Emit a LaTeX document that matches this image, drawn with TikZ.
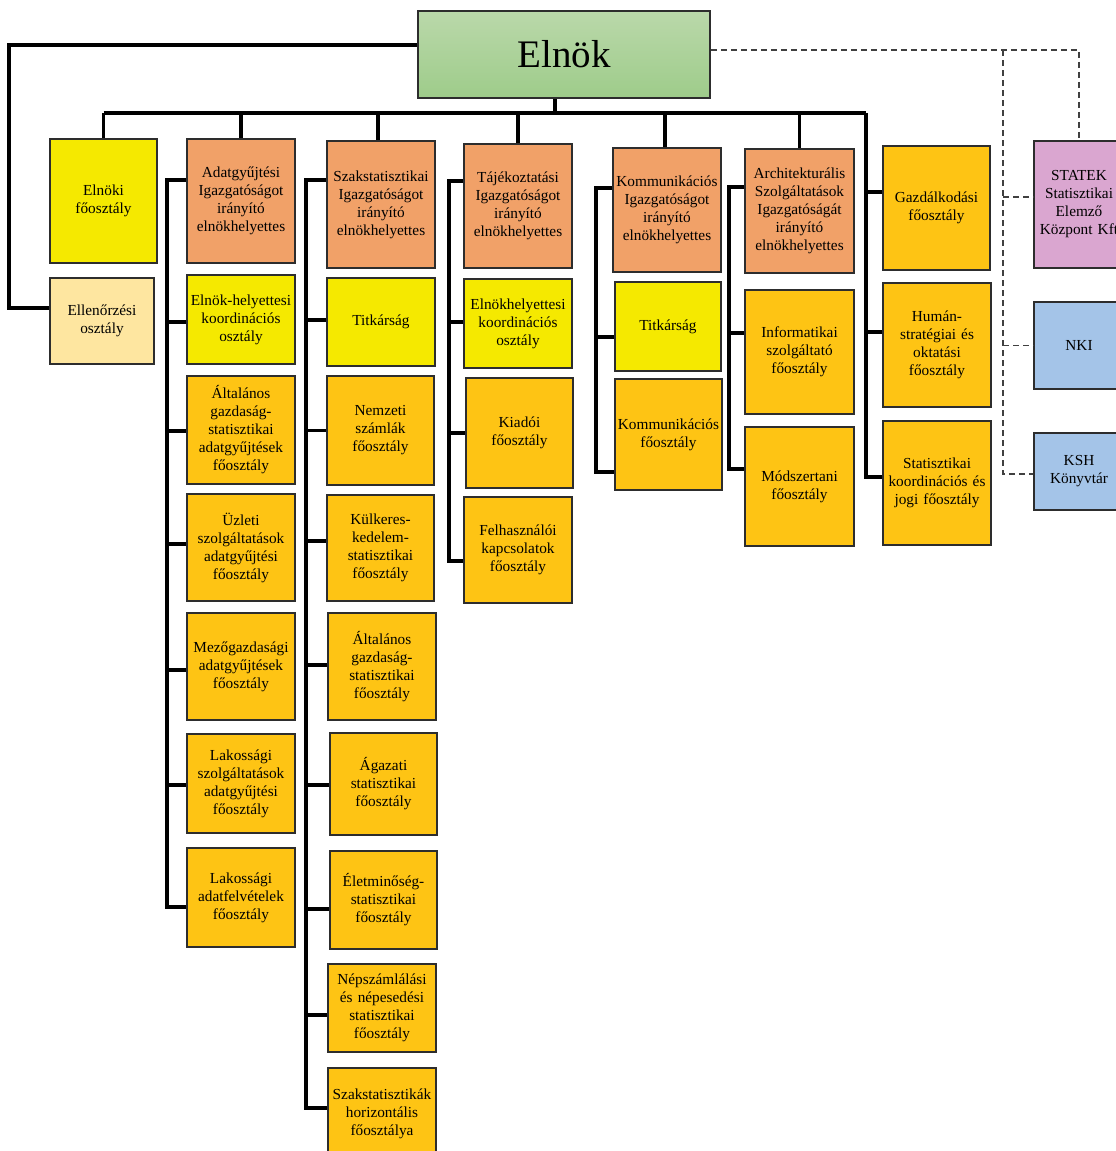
\documentclass[tikz,border=0pt]{standalone}
\usepackage{fontspec}
\setmainfont{Liberation Serif}
\definecolor{heador}{RGB}{241,161,104}
\definecolor{yel}{RGB}{245,233,0}
\definecolor{amber}{RGB}{254,196,20}
\definecolor{lyel}{RGB}{254,230,160}
\definecolor{pinkb}{RGB}{218,166,208}
\definecolor{blueb}{RGB}{164,196,232}
\definecolor{gtop}{RGB}{186,216,170}
\definecolor{gbot}{RGB}{158,204,138}
\definecolor{bord}{RGB}{45,45,45}
\tikzset{
  box/.style={draw=bord, line width=1.8pt, inner sep=0pt, align=center,
    font=\fontsize{15.3}{18}\selectfont},
  conn/.style={line width=3.2pt, black},
  dsh/.style={line width=1.4pt, black!75, dash pattern=on 6pt off 4pt},
}
\begin{document}
\begin{tikzpicture}[x=1pt,y=-1pt]
\useasboundingbox (0,0) rectangle (1116,1151);
\clip (0,0) rectangle (1116,1151);
\fill[white] (0,0) rectangle (1116,1151);

% top
\node[draw=bord, line width=1.8pt, top color=gtop, bottom color=gbot,
  minimum width=292pt, minimum height=87pt, inner sep=0pt,
  font=\fontsize{39}{44}\selectfont] (elnok) at (564,54.5) {Elnök};

% column 1
\node[box, fill=yel, minimum width=107pt, minimum height=124pt, text width=105pt] (e1) at (103.5,201) {Elnöki\\főosztály};
\node[box, fill=lyel, minimum width=104pt, minimum height=86pt, text width=102pt] (e2) at (102,321) {Ellenőrzési\\osztály};

% column 2
\node[box, fill=heador, minimum width=108pt, minimum height=124pt, text width=108pt] (a0) at (241,201) {Adatgyűjtési\\Igazgatóságot\\irányító\\elnökhelyettes};
\node[box, fill=yel, minimum width=108pt, minimum height=89pt, text width=108pt] (a1) at (241,319.5) {Elnök-helyettesi\\koordinációs\\osztály};
\node[box, fill=amber, minimum width=108pt, minimum height=108pt, text width=108pt] (a2) at (241,430) {Általános\\gazdaság-\\statisztikai\\adatgyűjtések\\főosztály};
\node[box, fill=amber, minimum width=108pt, minimum height=107pt, text width=108pt] (a3) at (241,547.5) {Üzleti\\szolgáltatások\\adatgyűjtési\\főosztály};
\node[box, fill=amber, minimum width=108pt, minimum height=107pt, text width=108pt] (a4) at (241,666.5) {Mezőgazdasági\\adatgyűjtések\\főosztály};
\node[box, fill=amber, minimum width=108pt, minimum height=99pt, text width=108pt] (a5) at (241,783.5) {Lakossági\\szolgáltatások\\adatgyűjtési\\főosztály};
\node[box, fill=amber, minimum width=108pt, minimum height=99pt, text width=108pt] (a6) at (241,897.5) {Lakossági\\adatfelvételek\\főosztály};

% column 3
\node[box, fill=heador, minimum width=108pt, minimum height=127pt, text width=108pt] (s0) at (381,204.5) {Szakstatisztikai\\Igazgatóságot\\irányító\\elnökhelyettes};
\node[box, fill=yel, minimum width=108pt, minimum height=88pt, text width=108pt] (s1) at (381,322) {Titkárság};
\node[box, fill=amber, minimum width=107pt, minimum height=109pt, text width=107pt] (s2) at (380.5,430.5) {Nemzeti\\számlák\\főosztály};
\node[box, fill=amber, minimum width=107pt, minimum height=106pt, text width=107pt] (s3) at (380.5,548) {Külkeres-\\kedelem-\\statisztikai\\főosztály};
\node[box, fill=amber, minimum width=108pt, minimum height=107pt, text width=108pt] (s4) at (382,666.5) {Általános\\gazdaság-\\statisztikai\\főosztály};
\node[box, fill=amber, minimum width=107pt, minimum height=102pt, text width=107pt] (s5) at (383.5,784) {Ágazati\\statisztikai\\főosztály};
\node[box, fill=amber, minimum width=107pt, minimum height=98pt, text width=107pt] (s6) at (383.5,900) {Életminőség-\\statisztikai\\főosztály};
\node[box, fill=amber, minimum width=108pt, minimum height=88pt, text width=108pt] (s7) at (382,1008) {Népszámlálási\\és népesedési\\statisztikai\\főosztály};
\node[box, fill=amber, minimum width=108pt, minimum height=92pt, text width=108pt] (s8) at (382,1114) {Szakstatisztikák\\horizontális\\főosztálya\\[4pt]};

% column 4
\node[box, fill=heador, minimum width=108pt, minimum height=124pt, text width=108pt] (t0) at (518,206) {Tájékoztatási\\Igazgatóságot\\irányító\\elnökhelyettes};
\node[box, fill=yel, minimum width=108pt, minimum height=89pt, text width=108pt] (t1) at (518,323.5) {Elnökhelyettesi\\koordinációs\\osztály};
\node[box, fill=amber, minimum width=107pt, minimum height=110pt, text width=107pt] (t2) at (519.5,433) {Kiadói\\főosztály};
\node[box, fill=amber, minimum width=108pt, minimum height=106pt, text width=108pt] (t3) at (518,550) {Felhasználói\\kapcsolatok\\főosztály};

% column 5
\node[box, fill=heador, minimum width=108pt, minimum height=124pt, text width=108pt] (k0) at (667,210) {Kommunikációs\\Igazgatóságot\\irányító\\elnökhelyettes};
\node[box, fill=yel, minimum width=106pt, minimum height=89pt, text width=106pt] (k1) at (668,326.5) {Titkárság};
\node[box, fill=amber, minimum width=107pt, minimum height=111pt, text width=107pt] (k2) at (668.5,434.5) {Kommunikációs\\főosztály};

% column 6
\node[box, fill=heador, minimum width=109pt, minimum height=124pt, text width=109pt] (r0) at (799.5,211) {Architekturális\\Szolgáltatások\\Igazgatóságát\\irányító\\elnökhelyettes};
\node[box, fill=amber, minimum width=109pt, minimum height=124pt, text width=109pt] (r1) at (799.5,352) {Informatikai\\szolgáltató\\főosztály};
\node[box, fill=amber, minimum width=109pt, minimum height=119pt, text width=109pt] (r2) at (799.5,486.5) {Módszertani\\főosztály};

% column 7
\node[box, fill=amber, minimum width=107pt, minimum height=124pt, text width=107pt] (g1) at (936.5,208) {Gazdálkodási\\főosztály};
\node[box, fill=amber, minimum width=108pt, minimum height=124pt, text width=108pt] (g2) at (937,345) {Humán-\\stratégiai és\\oktatási\\főosztály};
\node[box, fill=amber, minimum width=108pt, minimum height=124pt, text width=108pt] (g3) at (937,483) {Statisztikai\\koordinációs és\\jogi főosztály};

% right side
\node[box, fill=pinkb, minimum width=90pt, minimum height=127pt, text width=90pt] (x1) at (1079,204.5) {STATEK\\Statisztikai\\Elemző\\Központ Kft};
\node[box, fill=blueb, minimum width=90pt, minimum height=87pt, text width=90pt] (x2) at (1079,345.5) {NKI};
\node[box, fill=blueb, minimum width=90pt, minimum height=77pt, text width=90pt] (x3) at (1079,471.5) {KSH\\Könyvtár};

% coordinates
\coordinate (lc) at (9,308);
\coordinate (bus) at (555,113);
\coordinate (busR) at (866,113);
\coordinate (tA) at (167,180);
\coordinate (tS) at (306,180);
\coordinate (tT) at (449,181);
\coordinate (tK) at (596,188);
\coordinate (tR) at (729,187);
\coordinate (dv) at (1003,50);

% left connector
\draw[conn] ([yshift=9.5pt]elnok.west) -| (lc) -- ([yshift=13pt]e2.west);

% bus
\draw[conn] (bus |- elnok.south) -- (bus);
\draw[conn] (e1.north |- bus) -- (busR);
\draw[conn] (e1.north) -- (e1.north |- bus);
\draw[conn] (a0.north) -- (a0.north |- bus);
\draw[conn] ([xshift=-3pt]s0.north) -- ([xshift=-3pt]s0.north |- bus);
\draw[conn] (t0.north) -- (t0.north |- bus);
\draw[conn] ([xshift=-2pt]k0.north) -- ([xshift=-2pt]k0.north |- bus);
\draw[conn] (r0.north) -- (r0.north |- bus);

% column 2 trunk
\draw[conn] (a0.west |- tA) -- (tA) |- ([yshift=-9.5pt]a6.west);
\draw[conn] ([yshift=-2.5pt]a1.west) -| (tA);
\draw[conn] ([yshift=-1pt]a2.west) -| (tA);
\draw[conn] ([yshift=3.5pt]a3.west) -| (tA);
\draw[conn] ([yshift=-3.5pt]a4.west) -| (tA);
\draw[conn] ([yshift=-1.5pt]a5.west) -| (tA);

% column 3 trunk
\draw[conn] (s0.west |- tS) -- (tS) |- ([yshift=6pt]s8.west);
\draw[conn] ([yshift=2pt]s1.west) -| (tS);
\draw[conn] (s2.west) -| (tS);
\draw[conn] ([yshift=7pt]s3.west) -| (tS);
\draw[conn] ([yshift=1.5pt]s4.west) -| (tS);
\draw[conn] ([yshift=-1pt]s5.west) -| (tS);
\draw[conn] ([yshift=-9pt]s6.west) -| (tS);
\draw[conn] ([yshift=-7pt]s7.west) -| (tS);

% column 4 trunk
\draw[conn] (t0.west |- tT) -- (tT) |- ([yshift=-11pt]t3.west);
\draw[conn] ([yshift=1.5pt]t1.west) -| (tT);
\draw[conn] (t2.west) -| (tT);

% column 5 trunk
\draw[conn] (k0.west |- tK) -- (tK) |- ([yshift=-37.5pt]k2.west);
\draw[conn] ([yshift=-10.5pt]k1.west) -| (tK);

% column 6 trunk
\draw[conn] (r0.west |- tR) -- (tR) |- ([yshift=17.5pt]r2.west);
\draw[conn] ([yshift=19pt]r1.west) -| (tR);

% column 7 trunk
\draw[conn] (busR) |- ([yshift=6pt]g3.west);
\draw[conn] ([yshift=16pt]g1.west) -| (busR);
\draw[conn] ([yshift=13pt]g2.west) -| (busR);

% dashed links
\draw[dsh] ([yshift=4.5pt]elnok.east) -| (x1.north);
\draw[dsh] (dv) |- ([yshift=-2.5pt]x3.west);
\coordinate (x1b) at ([yshift=7.5pt]x1.west);
\draw[dsh] (x1b -| dv) -- (x1b);
\draw[dsh] (x2.west -| dv) -- (x2.west);
\end{tikzpicture}
\end{document}
